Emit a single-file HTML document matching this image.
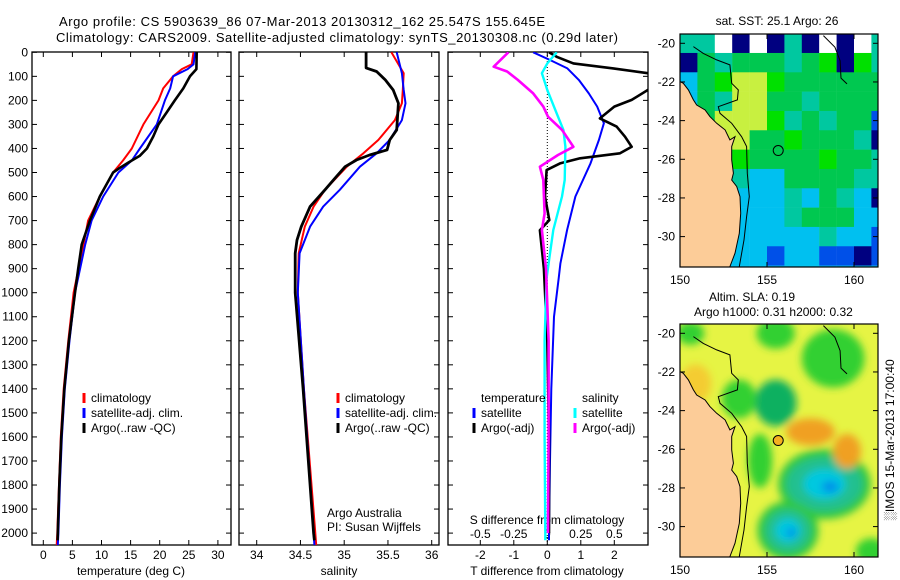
<!DOCTYPE html>
<html><head><meta charset="utf-8">
<style>
html,body{margin:0;padding:0;background:#fff;}
svg{display:block;font-family:"Liberation Sans",sans-serif;}
text{fill:#000;}
</style></head>
<body>
<svg id="chart" width="900" height="580" viewBox="0 0 900 580" xmlns="http://www.w3.org/2000/svg">
<defs>
<clipPath id="cp1"><rect x="32" y="52" width="199" height="493"/></clipPath>
<clipPath id="cp2"><rect x="239" y="52" width="200" height="493"/></clipPath>
<clipPath id="cp3"><rect x="448" y="52" width="200" height="493"/></clipPath>
<clipPath id="cm1"><rect x="680" y="34" width="198" height="233"/></clipPath>
<clipPath id="cm2"><rect x="680" y="324" width="198" height="233"/></clipPath>
<filter id="blur4" x="-50%" y="-50%" width="200%" height="200%"><feGaussianBlur stdDeviation="4"/></filter>
</defs>
<text x="59" y="26" font-size="13" textLength="486">Argo profile: CS 5903639_86 07-Mar-2013 20130312_162 25.547S 155.645E</text>
<text x="56" y="42" font-size="13" textLength="562">Climatology: CARS2009. Satellite-adjusted climatology: synTS_20130308.nc (0.29d later)</text>
<g id="g"></g>
</svg>
<script>
// ---------- profile data ----------
const depthTicks=[0,100,200,300,400,500,600,700,800,900,1000,1100,1200,1300,1400,1500,1600,1700,1800,1900,2000];
const tempTicks=[0,5,10,15,20,25,30];
const salTicks=[34,34.5,35,35.5,36];
const tdiffTicks=[-2,-1,0,1,2];
const sdiffTicks=[-0.5,-0.25,0,0.25,0.5];

const argoTempDepth=[0,70,100,150,200,250,300,350,400,430,450,480,500,600,700,800,900,1000,1200,1400,1600,1800,2000,2030];
const argoTemp=[26.35,26.3,25.2,24.05,22.6,21.2,19.8,18.9,17.8,16.6,15.2,13.2,12.0,9.7,8.0,6.6,6.0,5.45,4.4,3.6,3.1,2.75,2.5,2.45];
const climDepth=[0,50,70,100,150,200,300,400,450,500,600,700,800,1000,1200,1400,1600,1800,2000,2050];
const climTemp=[25.8,25.5,23.8,22.3,20.6,19.8,17.2,15.2,13.7,12.0,9.7,7.7,6.9,5.2,4.3,3.5,3.0,2.7,2.4,2.3];
const satTemp=[26.1,25.8,24.8,22.3,21.8,20.9,19.5,16.6,15.2,12.9,10.3,8.3,7.2,5.45,4.5,3.7,3.2,2.85,2.6,2.5];

const argoSalDepth=[0,65,80,115,157,212,323,365,406,427,448,476,530,572,642,725,781,836,1000,1400,2000,2030];
const argoSal=[35.25,35.25,35.37,35.47,35.56,35.62,35.6,35.52,35.49,35.29,35.14,35.01,34.88,34.78,34.61,34.51,34.46,34.44,34.44,34.53,34.65,34.66];
const climSalDepth=[0,87,157,212,282,365,420,476,572,642,725,836,1000,1400,2000,2050];
const climSal=[35.54,35.68,35.67,35.66,35.58,35.39,35.22,35.03,34.78,34.65,34.55,34.48,34.47,34.54,34.67,34.68];
const satSal=[35.6,35.66,35.68,35.7,35.66,35.52,35.37,35.18,34.95,34.76,34.61,34.49,34.47,34.54,34.65,34.66];

const argoTDiffDepth=[0,20,46,67,87,110,157,198,226,275,309,351,393,420,441,462,490,600,698,740,900,1200,1600,2000];
const argoTDiff=[0.05,0.3,0.78,1.97,3.0,3.5,3.0,2.52,2.0,1.57,2.07,2.32,2.52,2.17,0.98,0.38,-0.02,-0.07,0.06,-0.22,-0.1,0.0,0.05,0.05];
const satTDiffDepth=[0,32,67,115,171,226,295,365,462,600,739,878,940,1100,1400,1700,2000,2030];
const satTDiff=[-0.42,0.08,0.6,0.94,1.24,1.49,1.69,1.54,1.29,0.84,0.59,0.39,0.34,0.2,0.12,0.08,0.05,0.05];
const argoSDiffDepth=[0,60,80,115,171,226,268,323,393,427,476,531,670,740,900,1200,1600,2000];
const argoSDiff=[-0.29,-0.40,-0.30,-0.22,-0.105,-0.03,0.005,0.11,0.195,0.08,-0.055,-0.03,-0.02,-0.04,-0.01,0.01,0.01,0.005];
const satSDiffDepth=[0,46,87,157,254,323,393,531,600,739,878,940,1200,1600,2000,2030];
const satSDiff=[0.07,0.0,-0.04,0.0,0.07,0.12,0.135,0.13,0.11,0.045,0.01,-0.005,-0.02,-0.02,-0.015,-0.015];

// ---------- map data ----------
const mapLonTicks=[150,155,160];
const mapLatTicks=[-20,-22,-24,-26,-28,-30];
const sstRowLat=[-19.5,-20.5,-21.5,-22.5,-23.5,-24.5,-25.5,-26.5,-27.5,-28.5,-29.5,-30.5,-31.5];
const sstRows=["ttwnwntnwnwt","ngtgggtglnlt","cglyylgggggg","cgtyyggtgggg","bgyyyltgtggb","tgyygglgggtn","tgglgggglggt","ttgtccggggtt","ttcccctcgtcn","tccccctgggcc","tcgccccctccb","tbcccbccbbnb","tccccccccccc"];
const coastLon=[150,150.19,150.48,150.77,150.96,151.44,151.72,152.11,152.59,152.87,153.16,152.97,152.97,153.07,152.97,153.26,153.45,153.49,153.41,153.16,152.87,152.8,150];
const coastLat=[-21.98,-22.07,-22.41,-22.93,-23.19,-23.45,-23.79,-24.14,-24.48,-25.0,-24.83,-25.34,-26.03,-26.72,-27.07,-27.41,-27.93,-28.79,-29.83,-30.86,-31.55,-31.8,-31.8];
const shelfLon=[150.77,151.34,152.11,152.87,152.97,153.35,153.30,152.20,152.30,152.97,153.54,153.83,153.87,153.98,153.83,153.68,153.41];
const shelfLat=[-20.17,-20.52,-20.86,-21.12,-22.07,-22.41,-22.93,-23.28,-23.62,-24.14,-24.83,-25.34,-26.72,-27.93,-28.97,-30.17,-31.55];
const reefLon=[158.24,158.9,159.2,159.25,159.6];
const reefLat=[-19.6,-20.2,-20.9,-21.8,-22.1];
const argoLon=155.645, argoLat=-25.547;
const slaLon=[155.5,153.4,158.3,156.2,155.5,158.8,150.6,154.6,157.5,159.6,150.9,161.0,152.2];
const slaLat=[-23.6,-23.4,-27.8,-30.2,-20.0,-21.3,-20.0,-26.6,-25.1,-26.1,-22.6,-31.3,-29.5];
const slaRx=[1.2,1.0,2.2,1.3,1.1,1.8,0.8,0.7,1.4,0.8,0.9,0.9,0.6];
const slaRy=[1.2,1.0,1.4,1.1,0.8,1.5,0.6,1.4,0.7,0.9,1.0,0.7,0.8];
const slaVal=[-2,-1,-3,-3,-1,-1,-1,-1,2,2,1,-1,-1];

const svg=document.getElementById('g');
const NS='http://www.w3.org/2000/svg';
function mk(tag,attrs,parent){const e=document.createElementNS(NS,tag);for(const k in attrs)e.setAttribute(k,attrs[k]);(parent||svg).appendChild(e);return e;}
function txt(x,y,s,size,anchor,parent){const e=mk('text',{x:x,y:y,'font-size':size,'text-anchor':anchor||'start','dominant-baseline':'central'},parent);e.textContent=s;return e;}

const yD=d=>52.3+d*0.2404;
const xT=t=>43.3+t*5.82;
const xS=s=>256.7+(s-34)*87.5;
const xDT=v=>547.3+v*33.5;
const xDS=s=>547.3+s*4*33.5;
const PTOP=52,PBOT=545;
const panels=[{l:32,r:231,clip:'cp1'},{l:239,r:439,clip:'cp2'},{l:448,r:648,clip:'cp3'}];

panels.forEach((p,i)=>{
  const f=mk('rect',{x:p.l,y:PTOP,width:p.r-p.l,height:PBOT-PTOP,fill:'none',stroke:'#000','stroke-width':1.3});
  
  
  depthTicks.forEach(d=>{
    mk('line',{x1:p.l,x2:p.l+5,y1:yD(d),y2:yD(d),stroke:'#000'});
    mk('line',{x1:p.r-5,x2:p.r,y1:yD(d),y2:yD(d),stroke:'#000'});
  });
});
depthTicks.forEach(d=>{
  const t=txt(28,yD(d),String(d),12,'end');
  
  
});
function xTicks(vals,fx,p,ly,fmt){
  vals.forEach(v=>{
    const x=fx(v);
    mk('line',{x1:x,x2:x,y1:PTOP,y2:PTOP+5,stroke:'#000'});
    mk('line',{x1:x,x2:x,y1:PBOT-5,y2:PBOT,stroke:'#000'});
    const t=txt(x,ly,fmt?fmt(v):String(v),12,'middle');
    
    
  });
}
xTicks(tempTicks,xT,panels[0],555);
xTicks(salTicks,xS,panels[1],555);
xTicks(tdiffTicks,xDT,panels[2],555,v=>v==0?'0':String(v));
sdiffTicks.forEach(v=>{
  const t=txt(xDS(v),534,String(v),12,'middle');
  
  
});

let a=txt(131,571,'temperature (deg C)',12,'middle');
a=txt(339,571,'salinity',12,'middle');
a=txt(547,571,'T difference from climatology',12,'middle');
a=txt(547,520,'S difference from climatology',12,'middle');
a=txt(327,513,'Argo Australia',12,'start');
a=txt(327,527,'PI: Susan Wijffels',12,'start');

const zl=mk('line',{x1:xDT(0),x2:xDT(0),y1:PTOP,y2:PBOT,stroke:'#000','stroke-dasharray':'1,2'});



function series(depths,vals,fx,color,w,clip,name){
  const pts=depths.map((d,i)=>fx(vals[i]).toFixed(1)+','+yD(d).toFixed(1)).join(' ');
  const e=mk('polyline',{points:pts,fill:'none',stroke:color,'stroke-width':w,'clip-path':'url(#'+clip+')','stroke-linejoin':'round'});
  
  
}
series(climDepth,climTemp,xT,'#ff0000',2,'cp1','temp-climatology-line');
series(climDepth,satTemp,xT,'#0000ff',2,'cp1','temp-satellite-line');
series(argoTempDepth,argoTemp,xT,'#000',2.6,'cp1','temp-argo-line');
series(climSalDepth,climSal,xS,'#ff0000',2,'cp2','sal-climatology-line');
series(climSalDepth,satSal,xS,'#0000ff',2,'cp2','sal-satellite-line');
series(argoSalDepth,argoSal,xS,'#000',2.8,'cp2','sal-argo-line');
series(satTDiffDepth,satTDiff,xDT,'#0000ff',2,'cp3','tdiff-satellite-line');
series(argoTDiffDepth,argoTDiff,xDT,'#000',2.6,'cp3','tdiff-argo-line');
series(satSDiffDepth,satSDiff,xDS,'#00ffff',2.4,'cp3','sdiff-satellite-line');
series(argoSDiffDepth,argoSDiff,xDS,'#ff00ff',2.6,'cp3','sdiff-argo-line');

function leg(x,y,color,label,name){
  const m=mk('line',{x1:x,x2:x,y1:y-5,y2:y+5,stroke:color,'stroke-width':3});
  
  
  const t=txt(x+7,y,label,12,'start');
  
  
}
leg(84,398,'#ff0000','climatology','legend-entry-climatology');
leg(84,413,'#0000ff','satellite-adj. clim.','legend-entry-satellite');
leg(84,428,'#000','Argo(..raw -QC)','legend-entry-argo');
leg(338,398,'#ff0000','climatology','legend-entry-climatology-2');
leg(338,413,'#0000ff','satellite-adj. clim.','legend-entry-satellite-2');
leg(338,428,'#000','Argo(..raw -QC)','legend-entry-argo-2');
a=txt(481,398,'temperature',12,'start');
a=txt(582,398,'salinity',12,'start');
leg(474,413,'#0000ff','satellite','legend-entry-t-satellite');
leg(474,428,'#000','Argo(-adj)','legend-entry-t-argo');
leg(575,413,'#00ffff','satellite','legend-entry-s-satellite');
leg(575,428,'#ff00ff','Argo(-adj)','legend-entry-s-argo');

// ---------- maps ----------
const mx=lon=>680+(lon-150)*17.4;
const myF=top=>lat=>top+(-20-lat)*19.33;
const my1=myF(43.3), my2=myF(333.3);
const sstColor={n:'#000080',b:'#0050e8',c:'#00c0f0',t:'#00c8a0',g:'#00c850',l:'#00e000',y:'#c8f040',w:'#ffffff'};

const g1=mk('g',{'clip-path':'url(#cm1)'});


sstRows.forEach((row,ri)=>{
  for(let ci=0;ci<row.length;ci++){
    const lat=sstRowLat[ri], lon=150+ci;
    const r=mk('rect',{x:mx(lon),y:my1(lat),width:17.6,height:19.6,fill:sstColor[row[ci]]},g1);
    
    
  }
});
const g2=mk('g',{'clip-path':'url(#cm2)'});


mk('rect',{x:680,y:324,width:198,height:233,fill:'#e6f444'},g2);
const slaCol=v=>v<=-3?'#20c090':v==-2?'#10b060':v<0?'#30d030':v>=2?'#f0a020':'#f4cc30';
const bg=mk('g',{filter:'url(#blur4)'},g2);
slaLon.forEach((lon,i)=>{
  const cx=mx(lon), cy=my2(slaLat[i]), rx=slaRx[i]*17.4, ry=slaRy[i]*19.33;
  if(slaVal[i]<=-3){
    const o=mk('ellipse',{cx:cx,cy:cy,rx:rx+8,ry:ry+8,fill:'#30c840'},bg);
    
    
  }
  const e=mk('ellipse',{cx:cx,cy:cy,rx:rx,ry:ry,fill:slaCol(slaVal[i])},bg);
  
  
  if(slaVal[i]<=-3){
    const c=mk('ellipse',{cx:cx,cy:cy,rx:rx*0.55,ry:ry*0.55,fill:'#00c8e0'},bg);
    
    
    const c2=mk('ellipse',{cx:cx+rx*0.15,cy:cy+ry*0.1,rx:rx*0.22,ry:ry*0.22,fill:'#0090e8'},bg);
    
    
  }
});

[[g1,my1,'sst'],[g2,my2,'sla']].forEach(([gg,my,nm])=>{
  const land=mk('polygon',{points:coastLon.map((lo,i)=>mx(lo).toFixed(1)+','+my(coastLat[i]).toFixed(1)).join(' '),fill:'#fccc98',stroke:'#000','stroke-width':1},gg);
  
  
  const sh=mk('polyline',{points:shelfLon.map((lo,i)=>mx(lo).toFixed(1)+','+my(shelfLat[i]).toFixed(1)).join(' '),fill:'none',stroke:'#000','stroke-width':1},gg);
  
  
  const rf=mk('polyline',{points:reefLon.map((lo,i)=>mx(lo).toFixed(1)+','+my(reefLat[i]).toFixed(1)).join(' '),fill:'none',stroke:'#000','stroke-width':1},gg);
  
  
  const ac=mk('circle',{cx:mx(argoLon),cy:my(argoLat),r:5,fill:nm=='sla'?'#f4b020':'none',stroke:'#000','stroke-width':1},gg);
  
  
});

[[34,my1,280,'sst'],[324,my2,570,'sla']].forEach(([top,my,ly,nm])=>{
  const fr=mk('rect',{x:680,y:top,width:198,height:233,fill:'none',stroke:'#000','stroke-width':1.2});
  
  
  mapLatTicks.forEach(lat=>{
    const y=my(lat);
    mk('line',{x1:680,x2:685,y1:y,y2:y,stroke:'#000'});
    mk('line',{x1:873,x2:878,y1:y,y2:y,stroke:'#000'});
    const t=txt(675,y,String(lat),12,'end');
    
    
  });
  mapLonTicks.forEach(lon=>{
    const x=mx(lon);
    mk('line',{x1:x,x2:x,y1:top,y2:top+5,stroke:'#000'});
    mk('line',{x1:x,x2:x,y1:top+228,y2:top+233,stroke:'#000'});
    const t=txt(x,ly,String(lon),12,'middle');
    
    
  });
});
a=txt(777,21,'sat. SST: 25.1 Argo: 26',12,'middle');
a=txt(709,297,'Altim. SLA: 0.19',12,'start');
a=txt(694,312,'Argo h1000: 0.31 h2000: 0.32',12,'start');
a=txt(0,0,'\u2591IMOS 15-Mar-2013 17:00:40',12,'middle');
a.setAttribute('transform','translate(890,440) rotate(-90)');


</script>
</body></html>
